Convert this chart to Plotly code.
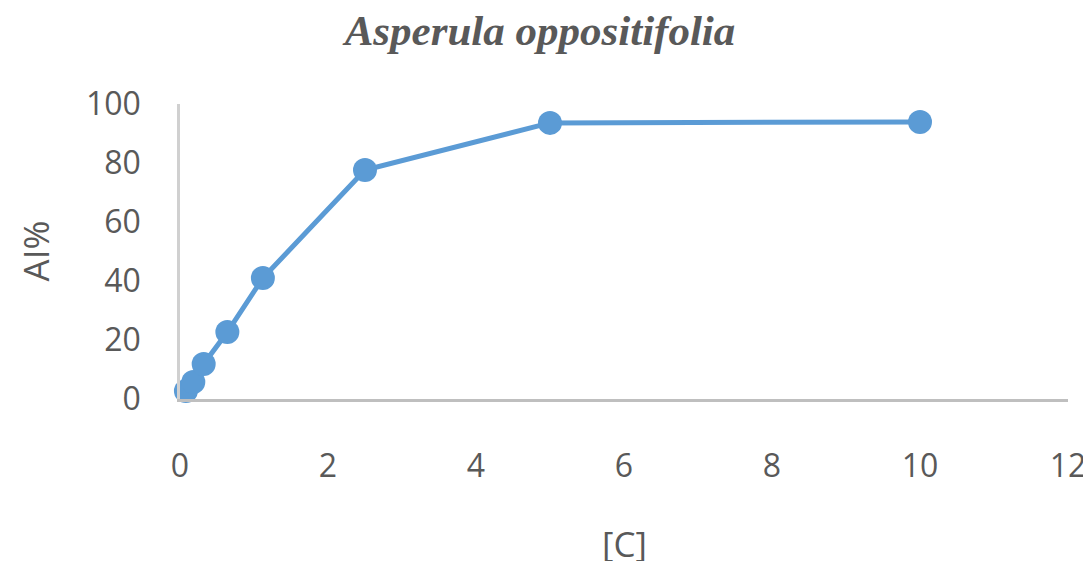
import plotly.graph_objects as go

conc = [0.08, 0.18, 0.32, 0.64, 1.12, 2.5, 5, 10]
ai_pct = [2.7, 5.8, 11.9, 22.7, 41, 77.6, 93.6, 93.9]
x_ticks = [0, 2, 4, 6, 8, 10, 12]
y_ticks = [0, 20, 40, 60, 80, 100]

# page body has an 8px default margin; size the figure so screen positions match
OFF = 8
W, H = 1091 - OFF, 561 - OFF
ML, MR, MT, MB = 180 - OFF, 23, 104 - OFF, 162
plot_w = W - ML - MR
plot_h = H - MT - MB

fig = go.Figure()
fig.add_trace(go.Scatter(
    x=conc, y=ai_pct, mode="lines+markers",
    line=dict(color="#5b9bd5", width=5),
    marker=dict(color="#5b9bd5", size=24),
    cliponaxis=False, showlegend=False,
))

tick_font = dict(family="Open Sans, Noto Sans, sans-serif", size=32, color="#595959")
title_font = dict(family="Open Sans, Noto Sans, sans-serif", size=35, color="#595959")
fig.update_layout(
    width=W, height=H,
    margin=dict(l=ML, r=MR, t=MT, b=MB),
    plot_bgcolor="white", paper_bgcolor="white",
    title=dict(text="<b><i>Asperula oppositifolia</i></b>",
               font=dict(family="Liberation Serif, Times New Roman, serif", size=43, color="#595959"),
               x=(540 - OFF) / W, xanchor="center", xref="container",
               y=1 - (30 - OFF) / H, yanchor="middle", yref="container"),
    xaxis=dict(range=[0, 12], tickvals=x_ticks, showgrid=False, zeroline=False,
               showline=True, linecolor="#bfbfbf", linewidth=2.5,
               ticks="outside", ticklen=37, tickcolor="rgba(0,0,0,0)",
               tickfont=tick_font, automargin=False),
    yaxis=dict(range=[0, 100], tickvals=y_ticks, showgrid=False, zeroline=False,
               showline=True, linecolor="#d0d0d0", linewidth=2.5,
               ticks="outside", ticklen=30, tickcolor="rgba(0,0,0,0)",
               tickfont=tick_font, automargin=False),
    annotations=[
        dict(text="[C]", x=0.5, xref="paper", y=(H - MB - (543 - OFF)) / plot_h, yref="paper",
             showarrow=False, font=title_font, xanchor="center", yanchor="middle"),
        dict(text="AI%", x=(35 - 180) / plot_w, xref="paper", y=0.5, yref="paper",
             showarrow=False, font=title_font, textangle=-90, xanchor="center", yanchor="middle"),
    ],
)
fig.write_html("out.html")
